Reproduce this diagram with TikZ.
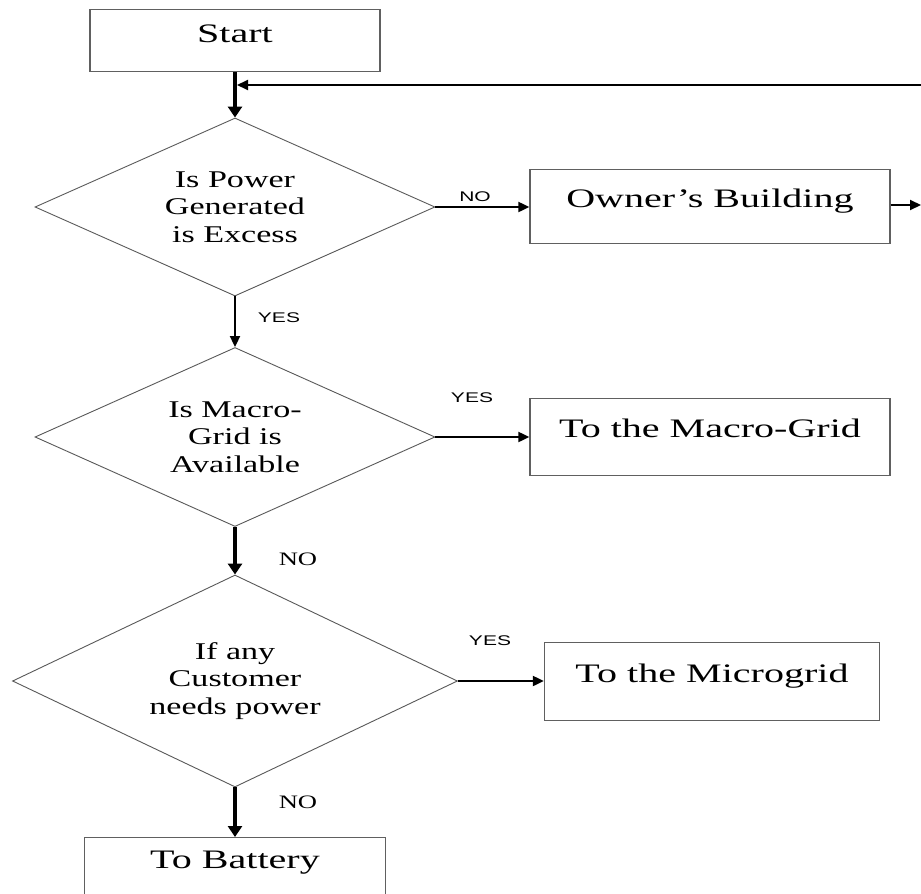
\documentclass[tikz,border=0pt]{standalone}
\usepackage{fontspec}
\newfontfamily\boxfont[FakeStretch=1.5]{Liberation Serif}
\newfontfamily\diafont[FakeStretch=1.42]{Liberation Serif}
\newfontfamily\lblfont[FakeStretch=1.5]{Liberation Sans}
\newfontfamily\nofont[FakeStretch=1.4]{Liberation Serif}
\usetikzlibrary{arrows.meta,shapes.geometric}
\tikzset{
  box/.style={draw=gray!75!black, line width=1.3pt, inner xsep=0pt, inner ysep=0pt,
    anchor=north, font={\boxfont\fontsize{26.7}{30}\selectfont}},
  dia/.style={diamond, aspect=2.6, draw=gray!70!black, line width=0.9pt, inner sep=0pt, align=center,
    font={\diafont\fontsize{24}{27.5}\selectfont}},
  heavyarr/.style={line width=4pt, -{Triangle[length=11pt,width=14pt]}},
  thinarr/.style={line width=2pt, -{Triangle[length=11pt,width=10pt]}},
  lbl/.style={inner sep=0pt, font={\lblfont\fontsize{14}{16}\selectfont}},
  nolbl/.style={inner sep=0pt, font={\nofont\fontsize{19}{22}\selectfont}}
}
\begin{document}
\begin{tikzpicture}[x=1pt,y=-1pt]
\clip (0,0) rectangle (921,894);
\fill[white] (0,0) rectangle (921,894);

% boxes
\node[box, minimum width=290pt, text height=33pt, text depth=29pt] (start) at (235,9) {Start};
\node[box, minimum width=360pt, text height=38pt, text depth=36pt] (owner) at (710,169) {Owner’s Building};
\node[box, minimum width=360pt, text height=39pt, text depth=38pt] (macro) at (710,398) {To the Macro-Grid};
\node[box, minimum width=335pt, text height=40pt, text depth=38pt] (micro) at (712,642) {To the Microgrid};
\node[box, minimum width=301pt, text height=31pt, text depth=60pt] (battery) at (235,837) {To Battery};

% diamonds
\node[dia, minimum width=400pt, minimum height=178pt] (d1) at (235,207) {Is Power\\Generated\\is Excess};
\node[dia, minimum width=400pt, minimum height=179pt] (d2) at (235,437) {Is Macro-\\Grid is\\Available};
\node[dia, minimum width=445pt, minimum height=212pt] (d3) at (235,681) {If any\\Customer\\needs power};

% coordinates
\coordinate (join) at (237,85);
\coordinate (fb) at (921,85);
\coordinate (oe) at (921,205);

% connectors
\draw[heavyarr] (start.south) -- (d1.north);
\draw[thinarr] (fb) -- (join);
\draw[thinarr] (d1.east) -- (d1.east -| owner.west);
\draw[thinarr] (owner.east |- oe) -- (oe);
\draw[thinarr] (d1.south) -- (d2.north);
\draw[thinarr] (d2.east) -- (d2.east -| macro.west);
\draw[heavyarr] (d2.south) -- (d3.north);
\draw[thinarr] (d3.east) -- (d3.east -| micro.west);
\draw[heavyarr] (d3.south) -- (battery.north);

% labels
\node[lbl] (l1) at (475,197) {NO};
\node[lbl] (l2) at (279,318) {YES};
\node[lbl] (l3) at (472,398) {YES};
\node[nolbl] (l4) at (298,559) {NO};
\node[lbl] (l5) at (490,641) {YES};
\node[nolbl] (l6) at (298,802) {NO};
\end{tikzpicture}
\end{document}
